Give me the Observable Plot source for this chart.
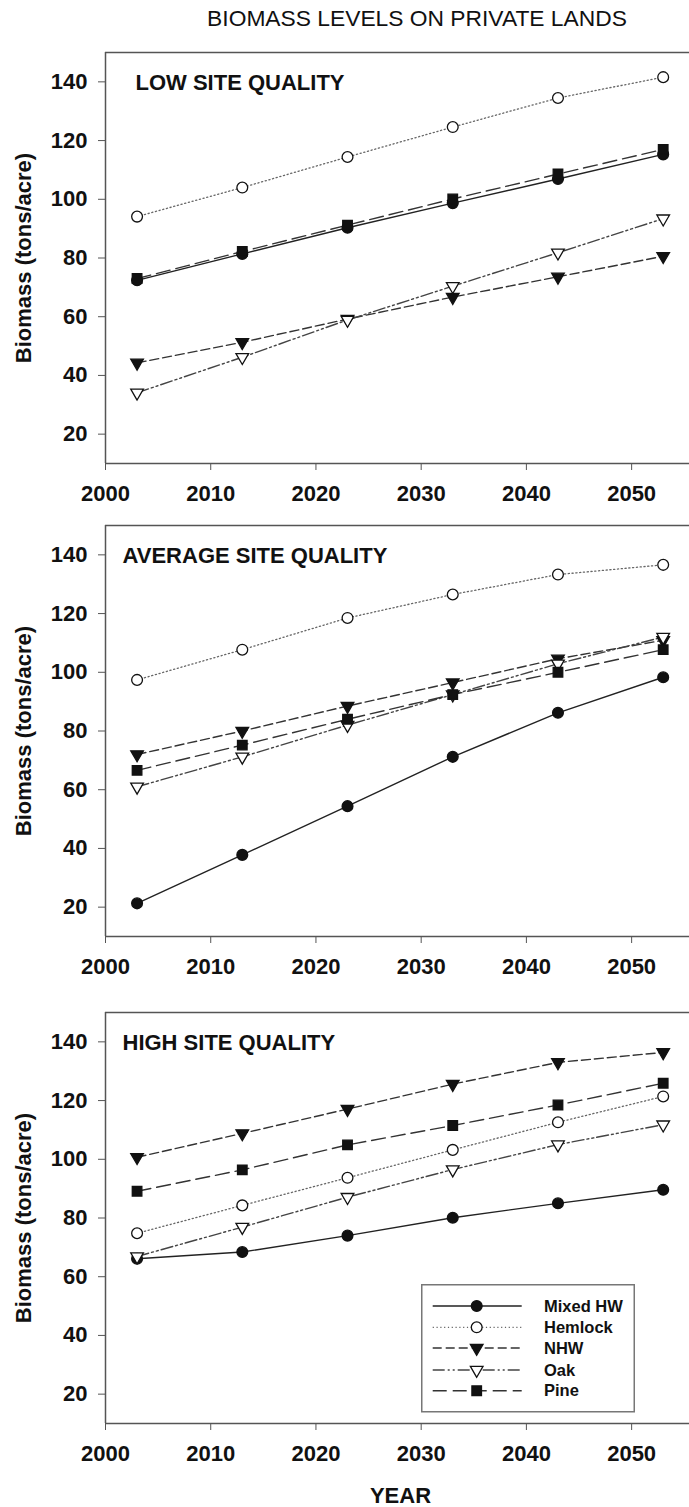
<!DOCTYPE html>
<html><head><meta charset="utf-8">
<script src="https://cdn.jsdelivr.net/npm/d3@7"></script>
<script src="https://cdn.jsdelivr.net/npm/@observablehq/plot@0.6"></script>
<style>
body{margin:0;background:#fff;}
#wrap{position:relative;width:689px;height:1507px;overflow:hidden;font-family:"Liberation Sans",Arial,sans-serif;background:#fff;}
#title{position:absolute;left:145px;width:544px;top:7px;text-align:center;font-size:22.8px;line-height:23px;color:#111;}
.panel{position:absolute;left:0;}
.legend{position:absolute;}
</style></head>
<body><div id="wrap"><div id="title">BIOMASS LEVELS ON PRIVATE LANDS</div></div>
<script>
const years = [2003, 2013, 2023, 2033, 2043, 2053];
const species = ["Mixed HW", "Hemlock", "NHW", "Oak", "Pine"];
// values per species, in the order of `species`
const lowSite = [
  [72.4, 81.4, 90.3, 98.7, 106.9, 115.3],
  [94.1, 104.0, 114.4, 124.6, 134.5, 141.6],
  [44.3, 51.3, 59.2, 66.7, 73.6, 80.6],
  [34.1, 46.2, 58.9, 70.4, 81.8, 93.4],
  [73.0, 82.2, 91.2, 100.1, 108.6, 117.0]
];
const averageSite = [
  [21.3, 37.8, 54.4, 71.2, 86.2, 98.3],
  [97.4, 107.7, 118.5, 126.5, 133.3, 136.6],
  [72.0, 80.0, 88.5, 96.5, 104.6, 110.9],
  [61.0, 71.2, 82.0, 92.4, 102.9, 112.0],
  [66.6, 75.2, 84.0, 92.4, 100.0, 107.7]
];
const highSite = [
  [66.1, 68.4, 74.0, 80.1, 85.0, 89.6],
  [74.8, 84.3, 93.7, 103.2, 112.6, 121.4],
  [100.7, 108.8, 117.1, 125.6, 133.0, 136.4],
  [66.9, 76.9, 87.1, 96.5, 105.0, 111.8],
  [89.1, 96.4, 104.9, 111.5, 118.5, 125.9]
];
const panelTitles = ["LOW SITE QUALITY", "AVERAGE SITE QUALITY", "HIGH SITE QUALITY"];
const xTicks = [2000, 2010, 2020, 2030, 2040, 2050];
const yTicks = [20, 40, 60, 80, 100, 120, 140];
const yLabel = "Biomass (tons/acre)";
const xLabel = "YEAR";

const styles = {
  "Mixed HW": {dash: null, stroke: "#222", sw: 1.4, symbol: "circle", fill: "#111", r: 5.4, rotate: 0},
  "Hemlock": {dash: "1.2,2.6", stroke: "#666", sw: 1.3, symbol: "circle", fill: "white", r: 5.4, rotate: 0},
  "NHW": {dash: "9,4", stroke: "#333", sw: 1.4, symbol: "triangle", fill: "#111", r: 4.7, rotate: 180},
  "Oak": {dash: "12,3,2,3,2,3", stroke: "#444", sw: 1.4, symbol: "triangle", fill: "white", r: 4.7, rotate: 180},
  "Pine": {dash: "14,6", stroke: "#333", sw: 1.4, symbol: "square", fill: "#111", r: 5.4, rotate: 0}
};

const frameTops = [51.7, 525, 1011.7];
const FRAME_H = 411;
const wrap = document.getElementById("wrap");
const font = '"Liberation Sans", Arial, sans-serif';

[lowSite, averageSite, highSite].forEach((values, idx) => {
  const rows = [];
  species.forEach((s, i) => years.forEach((y, j) => rows.push({species: s, year: y, value: values[i][j]})));
  const isLast = idx === 2;
  const mt = 15, mb = isLast ? 85 : 55;
  const lines = species.map(s => Plot.line(rows.filter(d => d.species === s), {
    x: "year", y: "value", stroke: styles[s].stroke, strokeWidth: styles[s].sw,
    strokeDasharray: styles[s].dash || undefined
  }));
  const dots = species.map(s => Plot.dot(rows.filter(d => d.species === s), {
    x: "year", y: "value", symbol: () => styles[s].symbol, r: styles[s].r,
    fill: styles[s].fill, stroke: "#111", strokeWidth: 1.3, rotate: styles[s].rotate
  }));
  const marks = [
    Plot.ruleY([150], {stroke: "#555", strokeWidth: 1.5}),
    Plot.ruleX([2000], {stroke: "#555", strokeWidth: 1.5}),
    Plot.ruleY([10], {stroke: "#555", strokeWidth: 1.5}),
    Plot.axisY({ticks: yTicks, tickSize: 7, tickPadding: 11, fontSize: 22, fontWeight: "bold", label: null, stroke: "#555", fill: "#111"}),
    Plot.axisX({ticks: xTicks, tickSize: 7, tickPadding: 15, tickFormat: d => String(d), fontSize: 22, fontWeight: "bold", label: null, stroke: "#555", fill: "#111"}),
    ...lines,
    ...dots,
    Plot.text([panelTitles[idx]], {text: d => d, frameAnchor: "top-left", dx: idx === 0 ? 30 : 17, dy: 22, lineAnchor: "top", textAnchor: "start", fontSize: 22, fontWeight: "bold", fill: "#111"}),
    Plot.text([yLabel], {text: d => d, frameAnchor: "left", dx: -82, rotate: -90, textAnchor: "middle", lineAnchor: "middle", fontSize: 22, fontWeight: "bold", fill: "#111"})
  ];
  if (isLast) {
    marks.push(Plot.text([xLabel], {text: d => d, frameAnchor: "bottom", dx: 3, dy: 64, lineAnchor: "top", textAnchor: "middle", fontSize: 22, fontWeight: "bold", fill: "#111"}));
  }
  const chart = Plot.plot({
    width: 689,
    height: mt + FRAME_H + mb,
    marginTop: mt, marginBottom: mb, marginLeft: 105, marginRight: 0,
    x: {domain: [2000, 2055.5]},
    y: {domain: [10, 150]},
    style: {fontFamily: font, fontSize: "22px", background: "transparent", overflow: "visible", color: "#111"},
    marks
  });
  const div = document.createElement("div");
  div.className = "panel";
  div.style.top = (frameTops[idx] - mt) + "px";
  div.appendChild(chart);
  wrap.appendChild(div);
});

// Legend (inside bottom panel)
const lg = d3.select(wrap).append("svg").attr("class", "legend")
  .style("left", "421px").style("top", "1284px")
  .attr("width", 215).attr("height", 130);
lg.append("rect").attr("x", 0.75).attr("y", 0.75).attr("width", 212.5).attr("height", 127)
  .attr("fill", "white").attr("stroke", "#777").attr("stroke-width", 1.5);
const symMap = {circle: d3.symbolCircle, triangle: d3.symbolTriangle, square: d3.symbolSquare};
const rowY = [22, 43.3, 64, 86, 106.7];
species.forEach((s, i) => {
  const st = styles[s];
  const g = lg.append("g").attr("transform", `translate(0,${rowY[i]})`);
  g.append("line").attr("x1", 11.7).attr("x2", 100.7).attr("y1", 0).attr("y2", 0)
    .attr("stroke", st.stroke).attr("stroke-width", st.sw)
    .attr("stroke-dasharray", st.dash || null);
  g.append("path").attr("d", d3.symbol(symMap[st.symbol], Math.PI * st.r * st.r)())
    .attr("transform", `translate(55.7,0) rotate(${st.rotate})`)
    .attr("fill", st.fill).attr("stroke", "#111").attr("stroke-width", 1.3);
  g.append("text").attr("x", 123).attr("y", 0).attr("dy", "0.35em")
    .attr("font-family", font).attr("font-size", 16.5).attr("font-weight", "bold").attr("fill", "#111")
    .text(s);
});
</script>
</body></html>
